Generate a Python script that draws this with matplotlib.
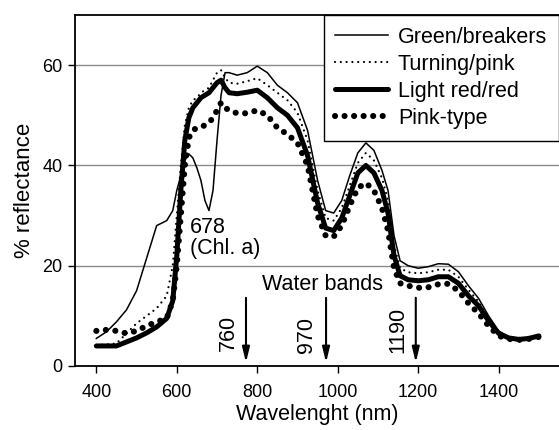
import matplotlib
matplotlib.use("Agg")
import matplotlib.pyplot as plt

plt.rcParams['font.family'] = ['Liberation Sans', 'DejaVu Sans']

wavelength = [400, 425, 450, 475, 500, 525, 550, 575, 590, 600, 610, 620, 630, 640, 650,
              660, 670, 680, 690, 700, 710, 720, 730, 750, 775, 800, 825, 850, 875, 900,
              925, 950, 970, 990, 1010, 1030, 1050, 1070, 1090, 1110, 1125, 1140, 1155,
              1175, 1200, 1225, 1250, 1275, 1300, 1325, 1350, 1375, 1400, 1425, 1450,
              1475, 1500]

green_breakers = [5.5, 6.8, 8.8, 11.2, 15, 21.5, 28, 29, 31, 35, 38, 41, 42.3, 41.5, 39.5,
                  37, 33, 31, 35, 45, 54, 58.5, 58.5, 58, 58.5, 59.8, 58.5, 56, 54.5, 52.5,
                  47, 37, 31, 30.5, 33, 38, 42.5, 44.5, 43, 39, 35, 26, 21,
                  20, 19.5, 19.8, 20.4, 20.3, 18.8, 16, 13.5, 10, 7, 5.8, 5.4,
                  5.6, 6.1]

turning_pink = [4.2, 4.3, 4.5, 6.5, 8.5, 10, 11.5, 14, 20, 30, 40, 48, 51.5, 53, 53.5,
                54.5, 55, 55.5, 57, 58.5, 59, 57.5, 56.5, 56.3, 56.8, 57.4, 56, 54.5, 53, 50.5,
                45, 35, 29.5, 29, 31.5, 36, 40.5, 42.5, 41, 37.5, 33, 24, 19.5,
                18.7, 18.5, 18.7, 19.2, 19.2, 17.8, 15.2, 12.8, 9.5, 6.8, 5.7, 5.4,
                5.6, 6.0]

light_red = [4, 4, 4, 4.8, 5.6, 6.6, 7.8, 9.5, 13, 22, 35, 45, 49.5, 51.5, 52.5,
             53.5, 54, 54.5, 55.5, 56.5, 57, 55.5, 54.5, 54.3, 54.6, 55, 53.5, 51.5, 50, 47.5,
             42, 32.5, 27.5, 27, 29.5, 34, 38.5, 40, 38.5, 35, 30.5, 22, 18,
             17.2, 17, 17.2, 17.8, 17.8, 16.5, 14, 12, 9, 6.5, 5.6, 5.3,
             5.5, 6.0]

pink_type = [7, 7.2, 7, 6.5, 7, 8, 8.8, 9.5, 13, 20, 30, 40, 45.5, 47, 47.5,
             47.7, 48, 48.5, 49.5, 51, 52.5, 51.5, 51, 50.4, 50.4, 51, 50, 47.5, 46.2, 44.5,
             40, 30, 26, 25.8, 28, 32, 35.5, 36.5, 35, 31.5, 27, 19.5, 16.5,
             16, 15.6, 15.7, 16.3, 16.4, 15, 12.5, 10.5, 8, 6, 5.4, 5.2,
             5.4, 5.8]

x_ticks = [400, 600, 800, 1000, 1200, 1400]
y_ticks = [0, 20, 40, 60]

water_bands = [772, 971, 1194]
water_labels = ["760", "970", "1190"]

fig = plt.figure(figsize=(5.59, 4.30), dpi=100)
ax = fig.add_axes([75/559, 1-366/430, 1-75/559, (366-15)/430])

FS_TICK = 13
FS = 15.5

ax.plot(wavelength, green_breakers, color='black', lw=1.1, label='Green/breakers', zorder=3)
ax.plot(wavelength, turning_pink, color='black', lw=1.6, linestyle=(0, (0.01, 2.6)),
        dash_capstyle='round', label='Turning/pink', zorder=3)
ax.plot(wavelength, light_red, color='black', lw=3.6, solid_capstyle='round',
        label='Light red/red', zorder=3)
ax.plot(wavelength, pink_type, color='black', lw=4.4, linestyle=(0, (0.01, 1.55)),
        dash_capstyle='round', label='Pink-type', zorder=3)

ax.set_xlim(347, 1550)
ax.set_ylim(0, 70)
ax.set_xticks(x_ticks)
ax.set_yticks(y_ticks)
ax.tick_params(axis='both', direction='out', length=5, width=1, labelsize=FS_TICK, colors='black')
ax.tick_params(axis='y', pad=4)
ax.tick_params(axis='x', pad=8)

for v in y_ticks[1:]:
    ax.axhline(v, color='#8a8a8a', lw=1.0, zorder=1)

for s in ['left', 'bottom', 'top']:
    ax.spines[s].set_linewidth(1.3)
    ax.spines[s].set_color('black')
ax.spines['right'].set_visible(False)

ax.set_xlabel('Wavelenght (nm)', fontsize=FS, labelpad=2)
ax.set_ylabel('% reflectance', fontsize=16, labelpad=5)

leg = ax.legend(loc='upper right', bbox_to_anchor=(1.0, 1.0), borderaxespad=0,
                fontsize=FS, frameon=True, fancybox=False, handlelength=2.45,
                handletextpad=0.45, labelspacing=0.28, borderpad=0.55)
leg.get_frame().set_edgecolor('black')
leg.get_frame().set_linewidth(1.0)
leg.get_frame().set_alpha(1)

# annotations
ax.text(633, 29.8, '678\n(Chl. a)', fontsize=FS, ha='left', va='top', linespacing=1.0)
ax.text(962, 16.2, 'Water bands', fontsize=FS, ha='center', va='center')
label_x = [728, 923, 1150]
label_y = [6.5, 6.1, 7.2]
for xb, lab, lx, ly in zip(water_bands, water_labels, label_x, label_y):
    ax.annotate('', xy=(xb, 0.7), xytext=(xb, 13.6),
                arrowprops=dict(arrowstyle='-|>,head_width=0.22,head_length=0.9',
                                color='black', lw=1.5, shrinkA=0, shrinkB=0))
    ax.text(lx, ly, lab, fontsize=FS, rotation=90, ha='center', va='center')

fig.savefig('out.png', dpi=100)
